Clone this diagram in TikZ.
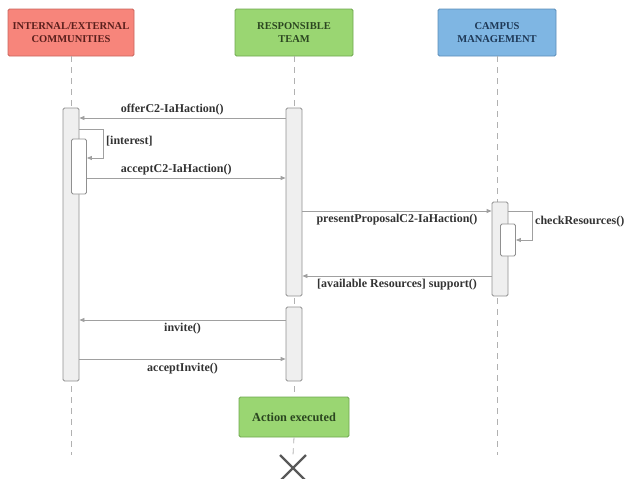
\documentclass[tikz,border=0pt]{standalone}
\usepackage{fontspec}
\setmainfont{Liberation Serif}
\usetikzlibrary{arrows.meta}
\definecolor{redfill}{HTML}{F7857B}
\definecolor{redline}{HTML}{C9655D}
\definecolor{redtext}{HTML}{5A1F1C}
\definecolor{greenfill}{HTML}{9AD672}
\definecolor{greenline}{HTML}{6FA74F}
\definecolor{greentext}{HTML}{2B4620}
\definecolor{bluefill}{HTML}{7FB6E3}
\definecolor{blueline}{HTML}{5C8DB8}
\definecolor{bluetext}{HTML}{1E3856}
\definecolor{msgline}{HTML}{A0A0A0}
\definecolor{actfill}{HTML}{EFEFEF}
\definecolor{actline}{HTML}{909090}
\definecolor{lbltext}{HTML}{333333}
\begin{document}
\begin{tikzpicture}[x=1pt,y=-1pt,
  header/.style={draw, line width=0.8pt, rounded corners=1.5pt, align=center, font=\bfseries\fontsize{10.5}{12.5}\selectfont, inner sep=0pt},
  lifeline/.style={draw=actline!70, dash pattern=on 6pt off 5pt, line width=0.8pt},
  act/.style={draw=actline, fill=actfill, line width=0.8pt, rounded corners=1.5pt, inner sep=0pt},
  inact/.style={draw=actline, fill=white, line width=0.8pt, rounded corners=1.5pt, inner sep=0pt},
  msg/.style={draw=msgline, line width=0.8pt, -{Triangle[length=5pt,width=4pt]}},
  lbl/.style={font=\bfseries\fontsize{12}{14}\selectfont, text=lbltext, inner sep=0pt}
]
\useasboundingbox (0,0) rectangle (624,479);

% headers
\node[header, fill=redfill, draw=redline, text=redtext, minimum width=126pt, minimum height=47pt] (h1) at (71,32.5) {INTERNAL/EXTERNAL\\COMMUNITIES};
\node[header, fill=greenfill, draw=greenline, text=greentext, minimum width=118pt, minimum height=47pt] (h2) at (294,32.5) {RESPONSIBLE\\TEAM};
\node[header, fill=bluefill, draw=blueline, text=bluetext, minimum width=118pt, minimum height=47pt] (h3) at (497,32.5) {CAMPUS\\MANAGEMENT};

% lifeline end coordinates
\coordinate (e1) at (71,455);
\coordinate (e3) at (497,455);
\coordinate (ax) at (293,455);

% action executed
\node[header, fill=greenfill, draw=greenline, text=greentext, minimum width=110pt, minimum height=40pt, font=\bfseries\fontsize{12.3}{14}\selectfont] (ae) at (294,417) {Action executed};

% lifelines
\draw[lifeline] (h1.south) -- (e1);
\draw[lifeline] (h2.south) -- (ae.north);
\draw[lifeline] (ae.south) -- (ax);
\draw[lifeline] (h3.south) -- (e3);

% activations
\node[act, minimum width=16pt, minimum height=273pt] (a1) at (71,244.5) {};
\node[inact, minimum width=15pt, minimum height=55pt] (a1i) at (79,166.5) {};
\node[act, minimum width=16pt, minimum height=188pt] (a2) at (294,202) {};
\node[act, minimum width=16pt, minimum height=74pt] (a2b) at (294,344) {};
\node[act, minimum width=16pt, minimum height=94pt] (a3) at (500,249) {};
\node[inact, minimum width=15pt, minimum height=32pt] (a3i) at (508,240) {};

% messages
\draw[msg] (a2.west |- 0,118) -- node[lbl, pos=0.55, yshift=8pt] {offerC2-IaHaction()} (a1.east |- 0,118);
\draw[msg] (a1.east |- 0,129) -- (103,129) -- (103,158) -- (a1i.east |- 0,158);
\node[lbl, anchor=west] (li) at (106,141) {[interest]};
\draw[msg] (a1i.east |- 0,178) -- node[lbl, pos=0.45, yshift=8pt] {acceptC2-IaHaction()} (a2.west |- 0,178);

\draw[msg] (a2.east |- 0,211) -- node[lbl, pos=0.5, yshift=-9pt] {presentProposalC2-IaHaction()} (a3.west |- 0,211);
\draw[msg] (a3.east |- 0,211) -- (532,211) -- (532,240) -- (a3i.east |- 0,240);
\node[lbl, anchor=west] (lc) at (535,222) {checkResources()};
\draw[msg] (a3.west |- 0,276) -- node[lbl, pos=0.5, yshift=-8.5pt] {[available Resources] support()} (a2.east |- 0,276);

\draw[msg] (a2b.west |- 0,320) -- node[lbl, pos=0.5, yshift=-9pt] {invite()} (a1.east |- 0,320);
\draw[msg] (a1.east |- 0,359) -- node[lbl, pos=0.5, yshift=-9.5pt] {acceptInvite()} (a2b.west |- 0,359);

% destruction
\draw[black!65, line width=2.2pt] (ax) ++(-13,0) -- ++(26,26) (ax) ++(13,0) -- ++(-26,26);
\end{tikzpicture}
\end{document}
